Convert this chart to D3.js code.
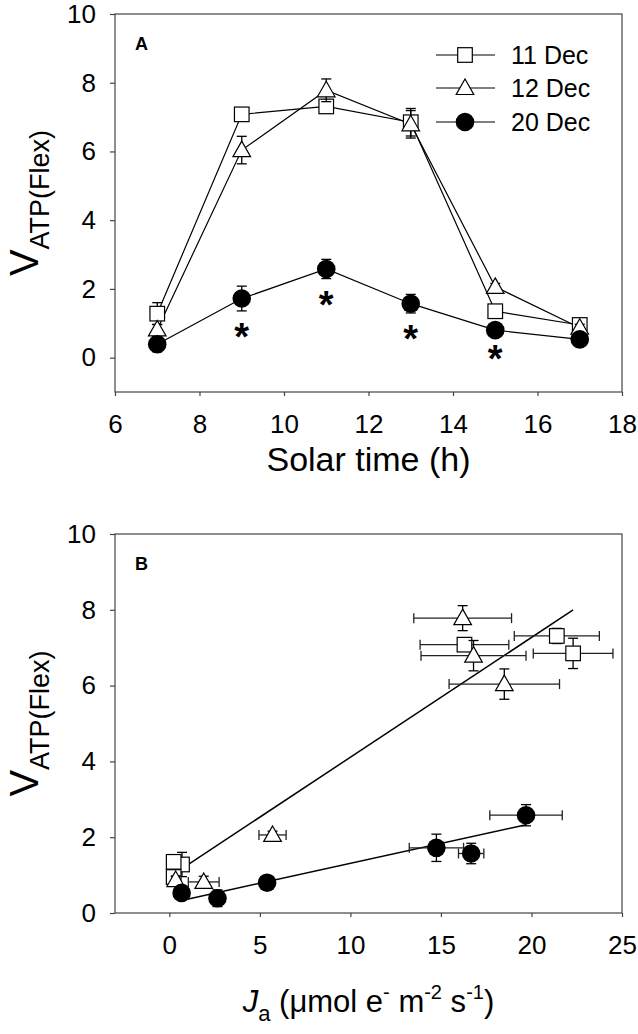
<!DOCTYPE html>
<html>
<head>
<meta charset="utf-8">
<script src="https://cdn.jsdelivr.net/npm/d3@7"></script>
<style>
  html, body { margin: 0; padding: 0; background: #fff; }
  svg { display: block; }
  text { font-family: "Liberation Sans", Arial, Helvetica, sans-serif; fill: #000; }
</style>
</head>
<body>
<svg id="chart" width="638" height="1034"></svg>
<script>
// ---------------- data ----------------
const times = [7, 9, 11, 13, 15, 17];
const seriesNames = ["11 Dec", "12 Dec", "20 Dec"];
const dec11 = [1.28, 7.08, 7.31, 6.85, 1.35, 0.95];
const dec11Err = [0.32, 0.15, 0.2, 0.4, 0.1, 0.1];
const dec12 = [0.82, 6.04, 7.78, 6.79, 2.06, 0.87];
const dec12Err = [0.15, 0.4, 0.33, 0.4, 0.1, 0.1];
const dec20 = [0.39, 1.72, 2.58, 1.57, 0.80, 0.53];
const dec20Err = [0.22, 0.36, 0.28, 0.27, 0.08, 0.08];
const sigTimes = [9, 11, 13, 15];

const ja11 = [0.7, 16.3, 21.4, 22.3, 0.24, 0.24];
const ja11Err = [0.3, 2.45, 2.35, 2.2, 0.35, 0.3];
const ja12 = [1.9, 18.5, 16.2, 16.8, 5.7, 0.35];
const ja12Err = [0.85, 3.05, 2.7, 2.9, 0.75, 0.2];
const ja20 = [2.66, 14.75, 19.7, 16.67, 5.4, 0.68];
const ja20Err = [0.2, 1.5, 2.0, 0.7, 0.2, 0.2];

// regression lines: [xStart, xEnd, intercept, slope]
const fitUpper = [0.22, 22.3, 0.95, 0.316];
const fitLower = [0.68, 19.7, 0.26, 0.105];

const xTicksA = [6, 8, 10, 12, 14, 16, 18];
const yTicks = [0, 2, 4, 6, 8, 10];
const xTicksB = [0, 5, 10, 15, 20, 25];

// ---------------- drawing ----------------
const svg = d3.select("#chart");
const FRAME = "#444";

function marker(g, type, x, y) {
  if (type === "square") {
    g.append("rect").attr("x", x - 7.3).attr("y", y - 7.3).attr("width", 14.6).attr("height", 14.6)
      .attr("fill", "#fff").attr("stroke", "#000").attr("stroke-width", 1.2);
  } else if (type === "triangle") {
    g.append("path").attr("d", `M${x},${y - 9}L${x + 8.8},${y + 6.5}L${x - 8.8},${y + 6.5}Z`)
      .attr("fill", "#fff").attr("stroke", "#000").attr("stroke-width", 1.2);
  } else {
    g.append("circle").attr("cx", x).attr("cy", y).attr("r", 9.3).attr("fill", "#000");
  }
}

function vErr(g, x, y0, y1) {
  g.append("line").attr("x1", x).attr("x2", x).attr("y1", y0).attr("y2", y1)
    .attr("stroke", "#000").attr("stroke-width", 1.3);
  [y0, y1].forEach(yy => g.append("line").attr("x1", x - 5).attr("x2", x + 5).attr("y1", yy).attr("y2", yy)
    .attr("stroke", "#000").attr("stroke-width", 1.3));
}
function hErr(g, y, x0, x1) {
  g.append("line").attr("x1", x0).attr("x2", x1).attr("y1", y).attr("y2", y)
    .attr("stroke", "#222").attr("stroke-width", 1.3);
  [x0, x1].forEach(xx => g.append("line").attr("x1", xx).attr("x2", xx).attr("y1", y - 5).attr("y2", y + 5)
    .attr("stroke", "#222").attr("stroke-width", 1.3));
}

function frameAndAxes(x, y, xt, yt, left, right, top, bottom) {
  const g = svg.append("g");
  g.append("rect").attr("x", left).attr("y", top).attr("width", right - left).attr("height", bottom - top)
    .attr("fill", "none").attr("stroke", FRAME).attr("stroke-width", 1.2);
  const ax = g.append("g").attr("transform", `translate(0,${bottom})`)
    .call(d3.axisBottom(x).tickValues(xt).tickSize(4).tickPadding(19).tickSizeOuter(0));
  const ay = g.append("g").attr("transform", `translate(${left},0)`)
    .call(d3.axisLeft(y).tickValues(yt).tickSize(5).tickPadding(14).tickSizeOuter(0));
  [ax, ay].forEach(a => {
    a.select(".domain").remove();
    a.selectAll(".tick line").attr("stroke", FRAME).attr("stroke-width", 1.2);
    a.selectAll(".tick text").style("font-size", "26px").attr("fill", "#111")
      .style("font-family", '"Liberation Sans", Arial, sans-serif');
  });
  return g;
}

function yTitle(cx, cy) {
  const t = svg.append("text").attr("transform", `translate(${cx},${cy}) rotate(-90)`)
    .attr("text-anchor", "middle");
  t.append("tspan").text("V").style("font-size", "40px");
  t.append("tspan").text("ATP(Flex)").style("font-size", "27px").attr("dy", 11);
}

// ===== Panel A =====
const A = { left: 115, right: 622, top: 14, bottom: 392 };
const xA = d3.scaleLinear().domain([6, 18]).range([A.left, A.right]);
const yA = d3.scaleLinear().domain([-1, 10]).range([A.bottom, A.top]);
frameAndAxes(xA, yA, xTicksA, yTicks, A.left, A.right, A.top, A.bottom);

svg.append("text").attr("x", 135).attr("y", 50).text("A")
  .style("font-size", "18px").style("font-weight", "bold");

const seriesA = [
  { vals: dec11, err: dec11Err, type: "square" },
  { vals: dec12, err: dec12Err, type: "triangle" },
  { vals: dec20, err: dec20Err, type: "circle" }
];
const lineA = d3.line().x((d, i) => xA(times[i])).y(d => yA(d));
const gA = svg.append("g");
seriesA.forEach(s => {
  gA.append("path").attr("d", lineA(s.vals)).attr("fill", "none").attr("stroke", "#000").attr("stroke-width", 1.2);
});
seriesA.forEach(s => {
  s.vals.forEach((v, i) => vErr(gA, xA(times[i]), yA(v + s.err[i]), yA(v - s.err[i])));
  s.vals.forEach((v, i) => marker(gA, s.type, xA(times[i]), yA(v)));
});
// significance asterisks
sigTimes.forEach(t => {
  const i = times.indexOf(t);
  const yLow = yA(dec20[i] - dec20Err[i]);
  svg.append("text").attr("x", xA(t)).attr("y", yLow + 17 + 22).attr("text-anchor", "middle")
    .text("*").style("font-size", "38px").style("font-weight", "bold");
});

// legend
const legTypes = ["square", "triangle", "circle"];
const legRows = [55, 88, 122];
seriesNames.forEach((name, i) => {
  const y = legRows[i];
  svg.append("line").attr("x1", 436).attr("x2", 495).attr("y1", y).attr("y2", y)
    .attr("stroke", "#000").attr("stroke-width", 1.2);
  marker(svg, legTypes[i], 465, y);
  svg.append("text").attr("x", 511).attr("y", y + 9).text(name).style("font-size", "25px");
});

svg.append("text").attr("x", (A.left + A.right) / 2).attr("y", 471).attr("text-anchor", "middle")
  .text("Solar time (h)").style("font-size", "34px");
yTitle(38, (A.top + A.bottom) / 2);

// ===== Panel B =====
const B = { left: 115, right: 622, top: 534, bottom: 913 };
const xB = d3.scaleLinear().domain([-3, 25]).range([B.left, B.right]);
const yB = d3.scaleLinear().domain([0, 10]).range([B.bottom, B.top]);
frameAndAxes(xB, yB, xTicksB, yTicks, B.left, B.right, B.top, B.bottom);

svg.append("text").attr("x", 135).attr("y", 570).text("B")
  .style("font-size", "18px").style("font-weight", "bold");

const gB = svg.append("g");
[fitUpper, fitLower].forEach(f => {
  gB.append("line").attr("x1", xB(f[0])).attr("x2", xB(f[1]))
    .attr("y1", yB(f[2] + f[3] * f[0])).attr("y2", yB(f[2] + f[3] * f[1]))
    .attr("stroke", "#000").attr("stroke-width", 1.5);
});
const seriesB = [
  { xs: ja11, xe: ja11Err, ys: dec11, ye: dec11Err, type: "square" },
  { xs: ja12, xe: ja12Err, ys: dec12, ye: dec12Err, type: "triangle" },
  { xs: ja20, xe: ja20Err, ys: dec20, ye: dec20Err, type: "circle" }
];
seriesB.forEach(s => {
  s.xs.forEach((xv, i) => {
    const yv = s.ys[i];
    hErr(gB, yB(yv), xB(xv - s.xe[i]), xB(xv + s.xe[i]));
    vErr(gB, xB(xv), yB(yv + s.ye[i]), yB(Math.max(0, yv - s.ye[i])));
  });
  s.xs.forEach((xv, i) => marker(gB, s.type, xB(xv), yB(s.ys[i])));
});

yTitle(38, (B.top + B.bottom) / 2);
const tb = svg.append("text").attr("x", (B.left + B.right) / 2).attr("y", 1012).attr("text-anchor", "middle")
  .style("font-size", "31px");
tb.append("tspan").text("J").style("font-style", "italic");
tb.append("tspan").text("a").style("font-size", "22px").attr("dy", 9);
tb.append("tspan").text(" (\u03bcmol e").attr("dy", -9);
tb.append("tspan").text("-").style("font-size", "20px").attr("dy", -13);
tb.append("tspan").text(" m").attr("dy", 13);
tb.append("tspan").text("-2").style("font-size", "20px").attr("dy", -13);
tb.append("tspan").text(" s").attr("dy", 13);
tb.append("tspan").text("-1").style("font-size", "20px").attr("dy", -13);
tb.append("tspan").text(")").attr("dy", 13);
</script>
</body>
</html>
